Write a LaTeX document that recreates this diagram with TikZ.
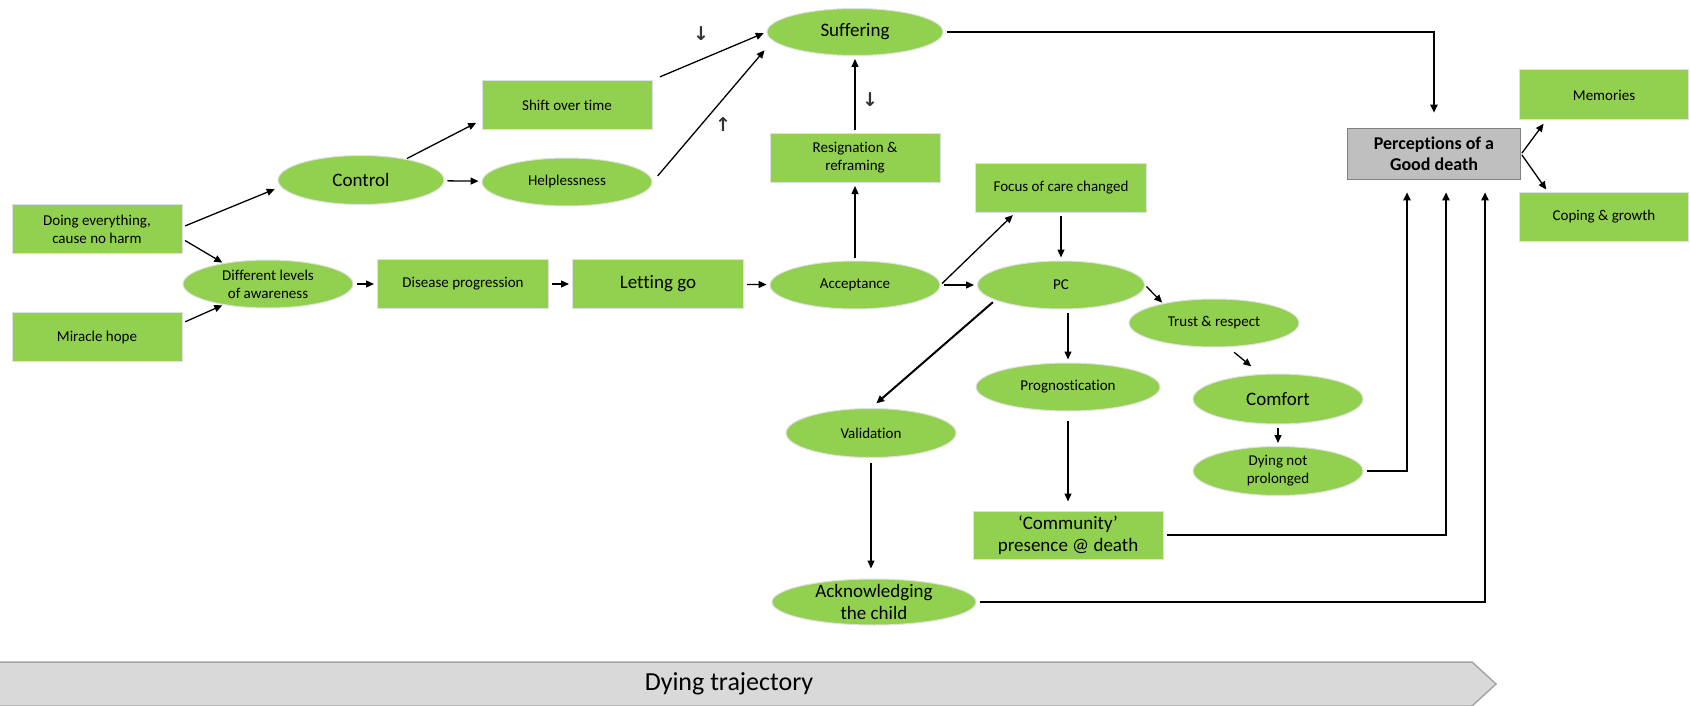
\documentclass[tikz,border=0pt]{standalone}
\usepackage{fontspec}
\setmainfont{Carlito}[Ligatures=NoCommon]
\newfontfamily\arrowfont{DejaVu Sans}
\usetikzlibrary{shapes.geometric,arrows.meta}

\definecolor{leafgreen}{HTML}{92D050}
\definecolor{deathgray}{HTML}{BFBFBF}
\definecolor{trackgray}{HTML}{D9D9D9}

\tikzset{
    greenbox/.style={rectangle, fill=leafgreen, draw=black!12, line width=1pt,
        minimum width=170pt, minimum height=49pt, inner sep=2pt, align=center,
        font=\fontsize{15}{18}\selectfont},
    greenoval/.style={ellipse, fill=leafgreen, draw=black!12, line width=1pt,
        minimum width=170pt, minimum height=48pt, inner sep=0pt, align=center,
        font=\fontsize{15}{18}\selectfont},
    bigtext/.style={font=\fontsize{19}{22}\selectfont},
    link/.style={-{Triangle[length=8pt,width=7pt]}, line width=1.3pt,
        shorten >=3pt, shorten <=3pt},
    boldlink/.style={link, line width=2pt},
    trendmark/.style={font=\arrowfont\bfseries\fontsize{19}{19}\selectfont, inner sep=0pt, text=black!80},
}

\begin{document}
\begin{tikzpicture}[x=1pt, y=-1pt]
    \useasboundingbox (0,0) rectangle (1690,706);

    % Draw the dying trajectory along the bottom
    \draw[fill=trackgray, draw=black!35, line width=1.5pt] (-2,662) -- (1472,662) -- (1496,684) -- (1472,706) -- (-2,706);
    \node[font=\fontsize{26}{30}\selectfont] (trajectory) at (729,684) {Dying trajectory};

    % Draw the nodes of the left part
    \node[greenbox] (doing) at (97,229) {Doing everything,\\cause no harm};
    \node[greenbox] (miracle) at (97,337) {Miracle hope};
    \node[greenoval] (levels) at (268,284) {Different levels\\of awareness};
    \node[greenoval, bigtext, minimum width=166pt, minimum height=49pt] (control) at (361,180) {Control};
    \node[greenbox] (shift) at (567,105) {Shift over time};
    \node[greenoval] (helpless) at (567,182) {Helplessness};
    \node[greenbox, minimum width=171pt] (disease) at (463,284) {Disease progression};
    \node[greenbox, bigtext, minimum width=171pt] (letting) at (658,284) {Letting go};

    % Draw the nodes of the middle part
    \node[greenoval, bigtext, minimum width=176pt, minimum height=47pt] (suffering) at (855,32) {Suffering};
    \node[greenbox] (resign) at (855,158) {Resignation \&\\reframing};
    \node[greenoval] (accept) at (855,285) {Acceptance};
    \node[greenbox, minimum width=171pt] (focus) at (1061,188) {Focus of care changed};
    \node[greenoval, minimum width=167pt] (pc) at (1061,285) {PC};
    \node[greenoval] (trust) at (1214,323) {Trust \& respect};
    \node[greenoval, minimum width=184pt] (prog) at (1068,387) {Prognostication};
    \node[greenoval, bigtext, minimum height=50pt] (comfort) at (1278,399) {Comfort};
    \node[greenoval, minimum height=49pt] (dying) at (1278,471) {Dying not\\prolonged};
    \node[greenoval, minimum height=49pt] (valid) at (871,433) {Validation};
    \node[greenbox, bigtext, minimum width=190pt, minimum height=48pt] (community) at (1068,535) {‘Community’\\presence @ death};
    \node[greenoval, minimum width=204pt, minimum height=46pt,
        label={[bigtext, align=center]center:Acknowledging\\the child}] (child) at (874,602) {};

    % Draw the nodes of the right part
    \node[greenbox, fill=deathgray, draw=black!50, line width=1.5pt, minimum width=173pt, minimum height=51pt,
        font=\bfseries\fontsize{18}{21}\selectfont] (goodDeath) at (1434,154) {Perceptions of a\\Good death};
    \node[greenbox, minimum width=169pt, minimum height=50pt] (memories) at (1604,95) {Memories};
    \node[greenbox, minimum width=169pt] (coping) at (1604,217) {Coping \& growth};

    % Draw the arrows of the left part
    \draw[link] ([yshift=2pt]doing.east) -- ([yshift=-8pt]control.west);
    \draw[link, shorten >=1pt] ([yshift=-10pt]doing.east) -- (levels.155);
    \draw[link, shorten >=1pt] ([yshift=14pt]miracle.east) -- (levels.205);
    \draw[link, shorten <=1pt, shorten >=6pt] (control.25) -- (shift.190);
    \draw[link] (control) -- (helpless);
    \draw[link] (levels) -- (disease);
    \draw[link] (disease) -- (letting);
    \draw[link] (letting) -- (accept);
    \draw[link, shorten <=8pt] (shift.north east) -- (suffering.west);
    \draw[link, shorten <=8pt] (helpless.east) -- ([yshift=-16pt]suffering.west);

    % Draw the trend marks
    \node[trendmark] (shiftTrend) at (701,34) {↓};
    \node[trendmark] (helplessTrend) at (723,125) {↑};
    \node[trendmark] (resignTrend) at (870,100) {↓};

    % Draw the arrows of the middle part
    \draw[link] (resign.north) -- (suffering.south);
    \draw[link] (accept.north) -- (resign.south);
    \draw[link, shorten <=2pt] (accept.east) -- ([xshift=-46pt]focus.south);
    \draw[link] (accept) -- (pc);
    \draw[link] (focus) -- (pc);
    \draw[link] (pc.south -| prog.north) -- (prog.north);
    \draw[link, shorten <=2pt, shorten >=1pt] (pc.east) -- (trust.159);
    \draw[link, shorten <=8pt, shorten >=12pt] (trust.-60) -- (comfort.125);
    \draw[link] (comfort.south) -- (dying.north);
    \draw[link, shorten <=9pt, shorten >=9pt] (prog.south) -- (community.north);
    \draw[boldlink, shorten >=7pt] (pc.193) -- (valid.north);
    \draw[link, shorten <=5pt, shorten >=10pt] (valid.south) -- (valid.south |- child.north);

    % Draw the arrows into and out of the good death
    \draw[boldlink, shorten >=15pt] (suffering.east) -| (goodDeath.north);
    \draw[boldlink, shorten >=12pt] (dying.east) -| ([xshift=-27pt]goodDeath.south);
    \draw[boldlink, shorten >=12pt] (community.east) -| ([xshift=12pt]goodDeath.south);
    \draw[boldlink, shorten >=12pt] (child.east) -| ([xshift=51pt]goodDeath.south);
    \draw[link, shorten <=1pt, shorten >=4pt] (goodDeath.east) -- ([xshift=27pt]memories.south west);
    \draw[link, shorten <=1pt, shorten >=3pt] (goodDeath.east) -- ([xshift=29pt]coping.north west);
\end{tikzpicture}
\end{document}
